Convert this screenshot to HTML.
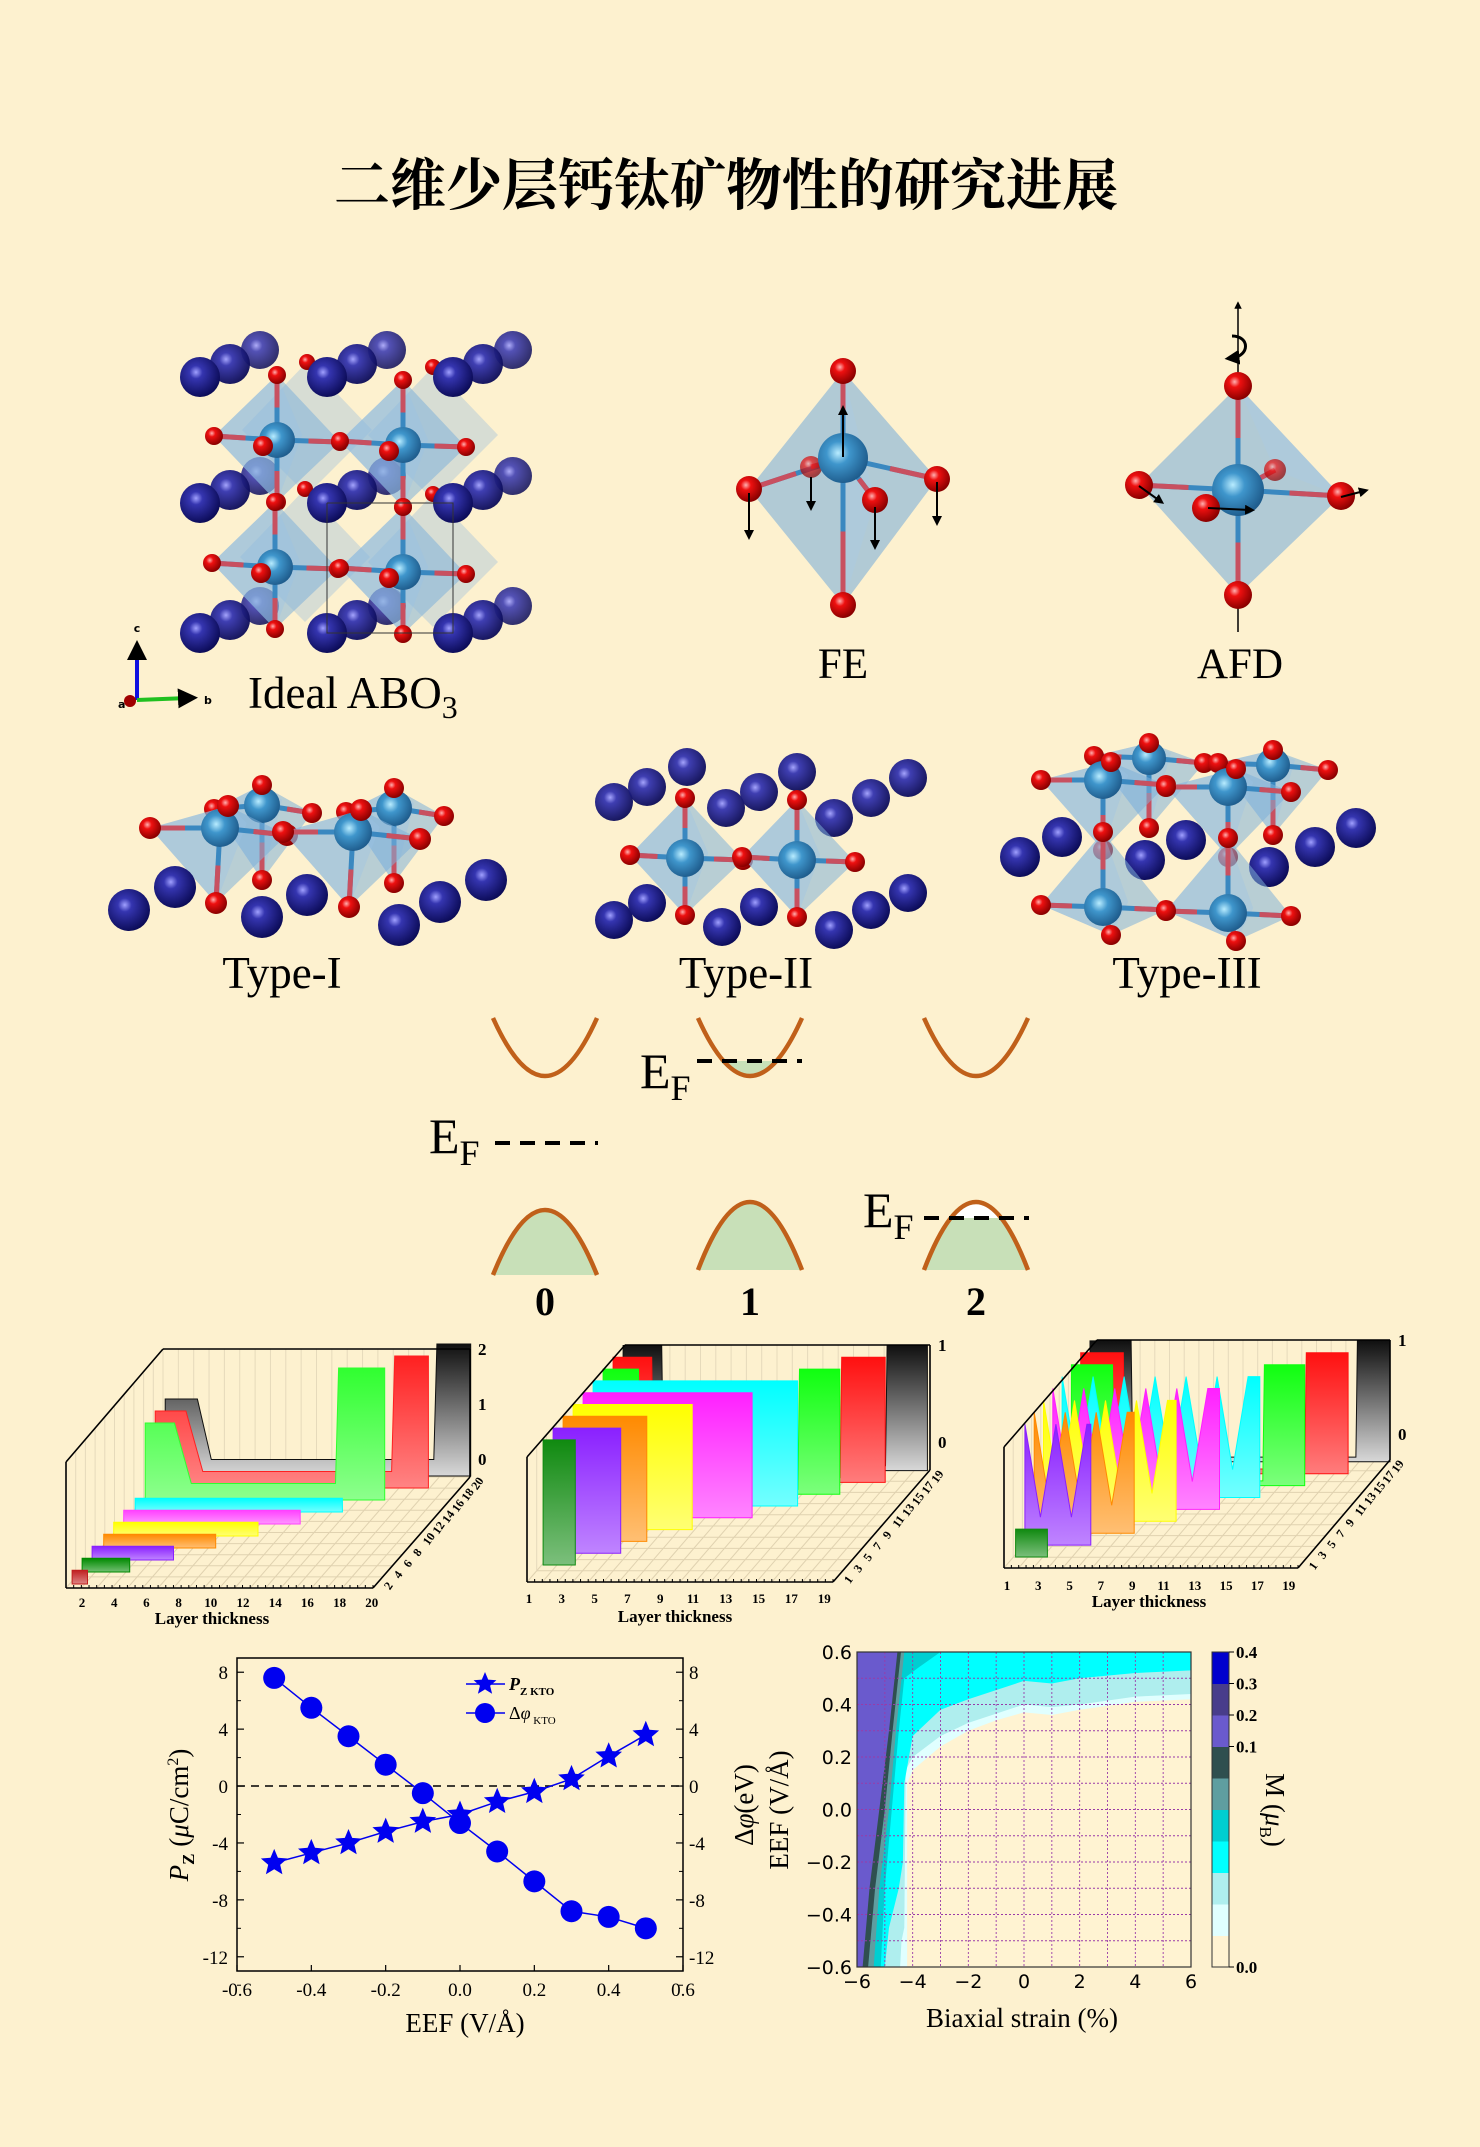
<!DOCTYPE html>
<html><head><meta charset="utf-8">
<style>
html,body{margin:0;padding:0;background:#fdf1cf;}
svg{display:block;}
text{font-family:"Liberation Serif","Noto Serif CJK SC",serif;}
.sans{font-family:"DejaVu Sans","Liberation Sans",sans-serif;}
</style></head>
<body>
<svg id="root" width="1480" height="2147" viewBox="0 0 1480 2147" xmlns="http://www.w3.org/2000/svg">
<defs>
<radialGradient id="gNavy" cx="40%" cy="38%" r="65%"><stop offset="0" stop-color="#a0a0ff"/><stop offset="0.25" stop-color="#3535b0"/><stop offset="1" stop-color="#0a0a55"/></radialGradient>
<radialGradient id="gRed" cx="38%" cy="35%" r="65%"><stop offset="0" stop-color="#ffb0b0"/><stop offset="0.3" stop-color="#ee1010"/><stop offset="1" stop-color="#8a0000"/></radialGradient>
<radialGradient id="gB" cx="40%" cy="40%" r="65%"><stop offset="0" stop-color="#b8ecff"/><stop offset="0.35" stop-color="#3f96cc"/><stop offset="1" stop-color="#1c5888"/></radialGradient>
<marker id="arr" viewBox="0 0 10 10" refX="5" refY="5" markerWidth="5" markerHeight="5" orient="auto"><path d="M0,0 L10,5 L0,10 z" fill="#000"/></marker>
<clipPath id="heatClip"><rect x="857" y="1652" width="334" height="315"/></clipPath>
</defs>

<text x="726" y="205" text-anchor="middle" font-size="56" font-weight="bold" style="font-family:'Noto Serif CJK SC','Noto Sans CJK SC',serif">二维少层钙钛矿物性的研究进展</text>

<g id="structs"></g>

<text x="248" y="708" font-size="45">Ideal ABO<tspan font-size="32" dy="10">3</tspan></text>
<text x="843" y="678" font-size="43" text-anchor="middle">FE</text>
<text x="1240" y="678" font-size="43" text-anchor="middle">AFD</text>
<text x="282" y="988" font-size="45" text-anchor="middle">Type-I</text>
<text x="746" y="988" font-size="45" text-anchor="middle">Type-II</text>
<text x="1187" y="988" font-size="45" text-anchor="middle">Type-III</text>

<g>
<line x1="137" y1="700" x2="137" y2="650" stroke="#1010e0" stroke-width="4" marker-end="url(#arr)"/>
<line x1="137" y1="700" x2="188" y2="698" stroke="#20c020" stroke-width="4" marker-end="url(#arr)"/>
<circle cx="130" cy="701" r="6" fill="#a00000"/>
<text x="137" y="632" font-size="11" font-weight="bold" text-anchor="middle" class="sans">c</text>
<text x="204" y="704" font-size="11" font-weight="bold" class="sans">b</text>
<text x="118" y="708" font-size="11" font-weight="bold" class="sans">a</text>
</g>

<g id="bands"></g>
<g id="panels"></g>
<g id="lchart"></g>
<g id="rchart"></g>
</svg>

<script>
const NS='http://www.w3.org/2000/svg';
function mk(tag,attrs,parent){const e=document.createElementNS(NS,tag);for(const k in attrs)e.setAttribute(k,attrs[k]);parent.appendChild(e);return e;}
const structs=document.getElementById('structs');

function sphere(cx,cy,r,kind,op){
  const g={navy:'url(#gNavy)',red:'url(#gRed)',b:'url(#gB)'}[kind];
  const c=mk('circle',{cx:cx,cy:cy,r:r,fill:g,opacity:op||1},structs);
  
  
  return c;
}
function bond(x1,y1,x2,y2){
  const l=mk('line',{x1:x1,y1:y1,x2:x2,y2:y2,stroke:'#3a88c0','stroke-width':5},structs);
  
  
  const mx=(x1+x2)/2,my=(y1+y2)/2;
  mk('line',{x1:mx,y1:my,x2:x2,y2:y2,stroke:'#c85060','stroke-width':5},structs);
}
function poly(pts,fill,op){
  const p=mk('polygon',{points:pts.map(q=>q.join(',')).join(' '),fill:fill,'fill-opacity':op},structs);
  
  
  return p;
}
function arrow(x1,y1,x2,y2){
  const l=mk('line',{x1:x1,y1:y1,x2:x2,y2:y2,stroke:'#000','stroke-width':2,'marker-end':'url(#arr)'},structs);
  
  
}
function octa(B,O,rB,rO){
  const [t,r,bt,l]=O;
  poly([t,r,bt,l],'#7fb0d8',0.55);
  poly([t,[B[0]+ (r[0]-B[0])*0.4,B[1]-5],bt,l],'#9cc4e4',0.35);
  O.forEach(o=>bond(B[0],B[1],o[0],o[1]));
  sphere(B[0],B[1],rB,'b');
  O.forEach(o=>sphere(o[0],o[1],rO,'red'));
}

const colsX=[200,327,453], rowsY=[377,503,633];
rowsY.forEach(y=>colsX.forEach(x=>{sphere(x+60,y-27,19,'navy',0.85);sphere(x+30,y-13,20,'navy',0.95);}));
[[277,440],[403,445],[275,567],[403,572]].forEach(([bx,by])=>{
  poly([[bx+30,by-78],[bx+95,by-10],[bx+30,by+55],[bx-35,by-10]],'#8fb8dc',0.35);
  octa([bx,by],[[bx,by-65],[bx+63,by+2],[bx,by+62],[bx-63,by-4]],18,9);
  sphere(bx+30,by-78,8,'red');sphere(bx-14,by+6,10,'red');
});
rowsY.forEach(y=>colsX.forEach(x=>sphere(x,y,20,'navy')));
mk('polyline',{points:'327,503 453,503 453,633 327,633 327,503',fill:'none',stroke:'#333','stroke-width':1},structs);

poly([[843,371],[937,479],[843,605],[749,489]],'#7fb0d8',0.6);
poly([[843,371],[875,500],[843,605]],'#a8cce8',0.35);
[[749,489],[937,479],[811,467],[875,500],[843,371],[843,605]].forEach(o=>bond(843,458,o[0],o[1]));
sphere(811,467,11,'red',0.7);
sphere(843,458,25,'b');
[[843,371],[843,605],[749,489],[937,479],[875,500]].forEach(o=>sphere(o[0],o[1],13,'red'));
arrow(843,457,843,410);arrow(749,493,749,535);arrow(811,477,811,506);arrow(875,507,875,545);arrow(937,482,937,521);

mk('line',{x1:1238,y1:386,x2:1238,y2:305,stroke:'#000','stroke-width':1.5,'marker-end':'url(#arr)'},structs);
mk('line',{x1:1238,y1:595,x2:1238,y2:632,stroke:'#000','stroke-width':1.5},structs);
mk('path',{d:'M1232,336 C1250,336 1250,356 1232,358',fill:'none',stroke:'#000','stroke-width':3,'marker-end':'url(#arr)'},structs);
poly([[1238,386],[1341,496],[1238,595],[1139,485]],'#7fb0d8',0.6);
poly([[1238,386],[1275,470],[1341,496]],'#a8cce8',0.35);
[[1139,485],[1341,496],[1275,470],[1206,508],[1238,386],[1238,595]].forEach(o=>bond(1238,490,o[0],o[1]));
sphere(1275,470,11,'red',0.7);
sphere(1238,490,26,'b');
[[1238,386],[1238,595],[1139,485],[1341,496],[1206,508]].forEach(o=>sphere(o[0],o[1],14,'red'));
arrow(1139,486,1160,501);arrow(1208,508,1250,510);arrow(1341,497,1364,491);

[[262,805],[394,808]].forEach(([x,y])=>octa([x,y],[[x,y-20],[x+50,y+8],[x,y+75],[x-48,y+4]],18,10));
[[220,828],[353,832]].forEach(([x,y])=>octa([x,y],[[x+8,y-22],[x+67,y+7],[x-4,y+75],[x-70,y]],19,11));
[[129,910],[175,887],[262,917],[307,895],[399,925],[440,902],[486,880]].forEach(p=>sphere(p[0],p[1],21,'navy'));

[[614,802],[647,787],[687,767],[726,808],[759,792],[797,772],[834,818],[871,798],[908,778]].forEach(p=>sphere(p[0],p[1],19,'navy',0.95));
[[685,858],[797,860]].forEach(([x,y])=>octa([x,y],[[x,y-60],[x+58,y+2],[x,y+57],[x-55,y-3]],19,10));
[[614,920],[647,903],[722,927],[759,907],[834,930],[871,910],[908,893]].forEach(p=>sphere(p[0],p[1],19,'navy'));

[[1149,758],[1273,765]].forEach(([x,y])=>octa([x,y],[[x,y-15],[x+55,y+5],[x,y+70],[x-55,y-2]],17,10));
[[1103,780],[1228,787]].forEach(([x,y])=>octa([x,y],[[x+8,y-18],[x+63,y+5],[x,y+70],[x-62,y]],19,10));
[[1020,857],[1062,837],[1145,860],[1186,840],[1269,867],[1315,847],[1356,828]].forEach(p=>sphere(p[0],p[1],20,'navy'));
[[1103,907],[1228,913]].forEach(([x,y])=>octa([x,y],[[x,y-75],[x+63,y+3],[x+8,y+28],[x-62,y-2]],19,10));

const bands=document.getElementById('bands');
const cbCenters=[545,750,976];
const vbTop=[1210,1202,1202], vbBot=[1275,1270,1270];
cbCenters.forEach((cx,i)=>{
  const hw=52;
  if(i===1){const f=mk('path',{d:`M${cx-30},1061 Q${cx},1092 ${cx+30},1061 Z`,fill:'#c8e0b8'},bands);}
  const cb=mk('path',{d:`M${cx-hw},1018 Q${cx},1134 ${cx+hw},1018`,fill:'none',stroke:'#c0601a','stroke-width':4.5},bands);
  
  
  const t=vbTop[i],b=vbBot[i];
  const vf=mk('path',{d:`M${cx-hw},${b} Q${cx},${2*t-b} ${cx+hw},${b} Z`,fill:'#c8e0b8'},bands);
  
  
  if(i===2){mk('path',{d:`M${cx-28},1218 Q${cx},1190 ${cx+28},1218 Z`,fill:'#ffffff'},bands);}
  const vb=mk('path',{d:`M${cx-hw},${b} Q${cx},${2*t-b} ${cx+hw},${b}`,fill:'none',stroke:'#c0601a','stroke-width':4.5},bands);
  
  
  const n=mk('text',{x:cx,y:1315,'font-size':40,'font-weight':'bold','text-anchor':'middle'},bands);
  n.textContent=String(i);
  
  
});
const efs=[[429,1153,495,598,1143],[640,1088,697,802,1061],[863,1227,924,1029,1218]];
efs.forEach((e,i)=>{
  const t=mk('text',{x:e[0],y:e[1],'font-size':50},bands);
  t.innerHTML='E<tspan font-size="36" dy="12">F</tspan>';
  
  
  const l=mk('line',{x1:e[2],y1:e[4],x2:e[3],y2:e[4],stroke:'#000','stroke-width':4,'stroke-dasharray':'15,10'},bands);
  
  
});

const panels=document.getElementById('panels');
const rowColors1=['#c02020','#008a00','#8a20ff','#ff8a00','#ffff00','#ff40ff','#00ffff','#30ff30','#ff2020','#101010'];
const p1rows=[
 [[0.4,0.25],[1.4,0.25]],
 [[0.4,0.25],[3.5,0.25]],
 [[0.4,0.25],[5.7,0.25]],
 [[0.5,0.25],[7.8,0.25]],
 [[0.5,0.25],[9.9,0.25]],
 [[0.5,0.25],[12.0,0.25]],
 [[0.6,0.25],[14.1,0.25]],
 [[0.6,1.4],[2.5,1.4],[3.6,0.3],[13.0,0.3],[13.2,2.4],[16.2,2.4]],
 [[0.6,1.4],[2.6,1.4],[3.7,0.3],[16.0,0.3],[16.2,2.4],[18.4,2.4]],
 [[0.6,1.4],[2.7,1.4],[3.6,0.3],[18.1,0.3],[18.3,2.4],[20.5,2.4]]
];
const rowColors2=['#108a10','#8a20ff','#ff8a00','#ffff00','#ff20ff','#00ffff','#10ff10','#ff1010','#101010'];
const p2rows=[
 [[1,1.29],[3.0,1.29]],
 [[1,1.29],[5.2,1.29]],
 [[1,1.29],[6.2,1.29]],
 [[1,1.29],[8.4,1.29]],
 [[1,1.29],[11.5,1.29]],
 [[1,1.29],[13.7,1.29]],
 [[1,1.29],[3.2,1.29],[3.3,0.05],[13.1,0.05],[13.2,1.29],[15.7,1.29]],
 [[1,1.29],[3.4,1.29],[3.5,0.05],[15.1,0.05],[15.2,1.29],[17.9,1.29]],
 [[1,1.29],[3.4,1.29],[3.5,0.05],[17.3,0.05],[17.4,1.29],[19.9,1.29]]
];
const rowColors3=['#108a10','#8a20ff','#ff8a00','#ffff00','#ff20ff','#00ffff','#10ff10','#ff1010','#101010'];
const p3rows=[
 [[0.75,0.3],[2.8,0.3]],
 [[0.75,1.3],[1.75,0.3],[2.75,1.3],[3.75,0.3],[4.75,1.3],[5.0,1.3]],
 [[0.75,1.3],[1.75,0.3],[2.75,1.3],[3.75,0.3],[4.75,1.3],[5.75,0.3],[6.75,1.3],[7.2,1.3]],
 [[0.75,1.3],[1.75,0.3],[2.75,1.3],[3.75,0.3],[4.75,1.3],[5.75,0.3],[6.75,1.3],[7.75,0.3],[8.75,1.3],[9.3,1.3]],
 [[0.75,1.3],[1.75,0.3],[2.75,1.3],[3.75,0.3],[4.75,1.3],[5.75,0.3],[6.75,1.3],[7.75,0.3],[8.75,1.3],[9.75,0.3],[10.75,1.3],[11.5,1.3]],
 [[0.75,1.3],[1.75,0.3],[2.75,1.3],[3.75,0.3],[4.75,1.3],[5.75,0.3],[6.75,1.3],[7.75,0.3],[8.75,1.3],[9.75,0.3],[10.75,1.3],[11.75,0.3],[12.75,1.3],[13.5,1.3]],
 [[0.75,1.3],[3.4,1.3],[3.5,0.05],[13.1,0.05],[13.2,1.3],[15.8,1.3]],
 [[0.75,1.3],[3.5,1.3],[3.6,0.05],[15.2,0.05],[15.3,1.3],[18.0,1.3]],
 [[0.75,1.3],[3.4,1.3],[3.5,0.05],[17.9,0.05],[18.0,1.3],[20.1,1.3]]
];
const p1xTicks=['2','4','6','8','10','12','14','16','18','20'];
const p2xTicks=['1','3','5','7','9','11','13','15','17','19'];
const p3xTicks=['1','3','5','7','9','11','13','15','17','19'];
const p1zTicks=['2','1','0'], p2zTicks=['1','0'], p3zTicks=['1','0'];

function lighten(hex,f){const n=parseInt(hex.slice(1),16);let r=n>>16,g=(n>>8)&255,b=n&255;r=Math.round(r+(255-r)*f);g=Math.round(g+(255-g)*f);b=Math.round(b+(255-b)*f);return `rgb(${r},${g},${b})`;}
let gid=0;
function drawPanel(cfg,rows,colors,xTicks,zTicks){
  const g=mk('g',{},panels);
  
  
  const defs=document.querySelector('defs');
  const {fl,ft,bt,bR,baseL,baseR,diagT}=cfg.frame;
  for(let i=0;i<=20;i++){const x=baseL[0]+(baseR[0]-baseL[0])*i/20;mk('line',{x1:x,y1:baseL[1],x2:x+(diagT[0]-baseR[0]),y2:diagT[1],stroke:'#e0d2b0','stroke-width':1},g);
    mk('line',{x1:x+(diagT[0]-baseR[0]),y1:diagT[1],x2:x+(diagT[0]-baseR[0]),y2:bt[1],stroke:'#e6dabb','stroke-width':1},g);}
  for(let i=0;i<=10;i++){const dx=(diagT[0]-baseR[0])*i/10,dy=(diagT[1]-baseR[1])*i/10;mk('line',{x1:baseL[0]+dx,y1:baseL[1]+dy,x2:baseR[0]+dx,y2:baseR[1]+dy,stroke:'#e0d2b0','stroke-width':1},g);
    mk('line',{x1:fl[0]+dx,y1:fl[1]+dy,x2:baseL[0]+dx,y2:baseL[1]+dy,stroke:'#e6dabb','stroke-width':1},g);}
  for(let r=rows.length-1;r>=0;r--){
    const x0=cfg.ox+r*cfg.dx, base=cfg.oy+r*cfg.dy;
    const id='rg'+(gid++);
    const lg=mk('linearGradient',{id:id,x1:0,y1:0,x2:0,y2:1},defs);
    const top=colors[r];
    const bot=colors[r]==='#101010'?'#d8d8d8':lighten(colors[r],0.45);
    mk('stop',{offset:0,'stop-color':top},lg);mk('stop',{offset:1,'stop-color':bot},lg);
    const pts=rows[r].map(([L,h])=>[x0+L*cfg.lw,base-h*cfg.zs]);
    const all=[[pts[0][0],base],...pts,[pts[pts.length-1][0],base]];
    const p=mk('polygon',{points:all.map(q=>q.map(v=>v.toFixed(1)).join(',')).join(' '),fill:`url(#${id})`,stroke:colors[r],'stroke-width':1},g);
    
    
  }
  const fr=[[fl,baseL],[fl,ft],[ft,bt],[bt,bR],[baseL,baseR],[baseR,diagT],[diagT,bR]];
  fr.forEach(([a,b])=>mk('line',{x1:a[0],y1:a[1],x2:b[0],y2:b[1],stroke:'#000','stroke-width':1.6},g));
  for(let i=0;i<=40;i++){const x=baseL[0]+(baseR[0]-baseL[0])*i/40;mk('line',{x1:x,y1:baseL[1],x2:x,y2:baseL[1]-3,stroke:'#000','stroke-width':1},g);}
  xTicks.forEach((t,i)=>{const x=cfg.xt0+i*cfg.xtStep;const e=mk('text',{x:x,y:cfg.xtY,'font-size':13,'font-weight':'bold','text-anchor':'middle'},g);e.textContent=t;});
  const lt=mk('text',{x:cfg.titleX,y:cfg.titleY,'font-size':17,'font-weight':'bold','text-anchor':'middle'},g);
  lt.textContent='Layer thickness';
  
  
  xTicks.forEach((t,i)=>{const f=(i+0.5)/xTicks.length;const x=baseR[0]+12+(diagT[0]-baseR[0])*f,y=baseR[1]+8+(diagT[1]-baseR[1])*f;
    const e=mk('text',{x:x,y:y,'font-size':12,'font-weight':'bold',transform:`rotate(-55 ${x} ${y})`},g);e.textContent=t;});
  zTicks.forEach((t,i)=>{const e=mk('text',{x:bR[0]+8,y:cfg.zY[i],'font-size':17,'font-weight':'bold'},g);e.textContent=t;});
}
drawPanel({name:'panel-type-i',ox:66,oy:1584,dx:10,dy:-12,lw:15.35,zs:55,
  frame:{fl:[66,1462],ft:[163,1349],bt:[470,1349],bR:[470,1477],baseL:[66,1588],baseR:[373,1588],diagT:[470,1477]},
  xt0:82,xtStep:32.2,xtY:1607,titleX:212,titleY:1624,zY:[1355,1410,1465]},p1rows,rowColors1,p1xTicks,p1zTicks);
drawPanel({name:'panel-type-ii',ox:527,oy:1565,dx:10,dy:-11.8,lw:16.1,zs:97,
  frame:{fl:[527,1457],ft:[625,1345],bt:[930,1345],bR:[930,1470],baseL:[527,1582],baseR:[833,1582],diagT:[930,1470]},
  xt0:529,xtStep:32.8,xtY:1603,titleX:675,titleY:1622,zY:[1351,1448]},p2rows,rowColors2,p2xTicks,p2zTicks);
drawPanel({name:'panel-type-iii',ox:1004,oy:1557,dx:9.3,dy:-11.9,lw:15.5,zs:93,
  frame:{fl:[1004,1447],ft:[1097,1340],bt:[1390,1340],bR:[1390,1460],baseL:[1004,1568],baseR:[1298,1568],diagT:[1390,1460]},
  xt0:1007,xtStep:31.3,xtY:1590,titleX:1149,titleY:1607,zY:[1346,1440]},p3rows,rowColors3,p3xTicks,p3zTicks);
</script>

<script>
// ---- Left chart: Pz and delta phi vs EEF ----
const eef=[-0.5,-0.4,-0.3,-0.2,-0.1,0.0,0.1,0.2,0.3,0.4,0.5];
const pzKTO=[-5.4,-4.7,-4.0,-3.2,-2.5,-2.0,-1.1,-0.4,0.5,2.1,3.6];
const dphiKTO=[7.6,5.5,3.5,1.5,-0.5,-2.6,-4.6,-6.7,-8.8,-9.2,-10.0];
const lxTicks=['-0.6','-0.4','-0.2','0.0','0.2','0.4','0.6'];
const lyTicks=['8','4','0','-4','-8','-12'];
(function(){
  const NS='http://www.w3.org/2000/svg';
  const G=document.getElementById('lchart');
  function mk(tag,a,p){const e=document.createElementNS(NS,tag);for(const k in a)e.setAttribute(k,a[k]);(p||G).appendChild(e);return e;}
  const L=237,R=683;
  const X=v=>L+(v+0.6)/1.2*(R-L), Y=v=>1658+(9-v)/22*313;
  const fr=mk('rect',{x:L,y:1658,width:R-L,height:313,fill:'none',stroke:'#000','stroke-width':1.5});
  
  
  lxTicks.forEach(t=>{const v=parseFloat(t),x=X(v);
    mk('line',{x1:x,y1:1971,x2:x,y2:1965,stroke:'#000','stroke-width':1.2});
    const e=mk('text',{x:x,y:1996,'font-size':19,'text-anchor':'middle'});e.textContent=t;
    
    });
  lyTicks.forEach(t=>{const v=parseFloat(t),y=Y(v);
    mk('line',{x1:L,y1:y,x2:L+7,y2:y,stroke:'#000','stroke-width':1.2});
    mk('line',{x1:R,y1:y,x2:R-7,y2:y,stroke:'#000','stroke-width':1.2});
    mk('line',{x1:L,y1:Y(v-2),x2:L+4,y2:Y(v-2),stroke:'#000','stroke-width':1});
    mk('line',{x1:R,y1:Y(v-2),x2:R-4,y2:Y(v-2),stroke:'#000','stroke-width':1});
    const e=mk('text',{x:228,y:y+7,'font-size':19,'text-anchor':'end'});e.textContent=t;
    
    
    const e2=mk('text',{x:689,y:y+7,'font-size':19});e2.textContent=t;
    
    });
  const zl=mk('line',{x1:L,y1:Y(0),x2:R,y2:Y(0),stroke:'#000','stroke-width':1.5,'stroke-dasharray':'8,6'});
  
  
  const xt=mk('text',{x:465,y:2032,'font-size':27,'text-anchor':'middle'});xt.textContent='EEF (V/Å)';
  
  
  const yt=mk('text',{x:0,y:0,'font-size':27,'text-anchor':'middle',transform:'translate(188,1815) rotate(-90)'});
  yt.innerHTML='<tspan font-style="italic">P</tspan><tspan font-size="17" dy="6" font-weight="bold">Z</tspan><tspan dy="-6"> (</tspan><tspan font-style="italic">μ</tspan>C/cm<tspan font-size="16" dy="-10">2</tspan><tspan dy="10">)</tspan>';
  
  
  const blue='#0000f0';
  function star(cx,cy,Rr){let d='';for(let i=0;i<10;i++){const r=i%2?Rr*0.45:Rr,a=-Math.PI/2+i*Math.PI/5;d+=(i?'L':'M')+(cx+r*Math.cos(a)).toFixed(1)+','+(cy+r*Math.sin(a)).toFixed(1);}return d+'Z';}
  const l1=mk('polyline',{points:eef.map((v,i)=>X(v)+','+Y(pzKTO[i])).join(' '),fill:'none',stroke:blue,'stroke-width':1.5});
  
  
  const l2=mk('polyline',{points:eef.map((v,i)=>X(v)+','+Y(dphiKTO[i])).join(' '),fill:'none',stroke:blue,'stroke-width':1.5});
  
  
  eef.forEach((v,i)=>{const s=mk('path',{d:star(X(v),Y(pzKTO[i]),14),fill:blue});
    
    });
  eef.forEach((v,i)=>{const c=mk('circle',{cx:X(v),cy:Y(dphiKTO[i]),r:11,fill:blue});
    
    });
  mk('line',{x1:466,y1:1684,x2:505,y2:1684,stroke:blue,'stroke-width':1.5});
  mk('path',{d:star(485,1684,12),fill:blue});
  const t1=mk('text',{x:509,y:1690,'font-size':18,'font-weight':'bold','font-style':'italic'});t1.innerHTML='P<tspan font-size="11" font-style="normal" dy="5">Z KTO</tspan>';
  
  
  mk('line',{x1:466,y1:1713,x2:505,y2:1713,stroke:blue,'stroke-width':1.5});
  mk('circle',{cx:485,cy:1713,r:10,fill:blue});
  const t2=mk('text',{x:509,y:1719,'font-size':18});t2.innerHTML='Δ<tspan font-style="italic">φ</tspan><tspan font-size="11" dy="5"> KTO</tspan>';
  
  
})();
</script>

<script>
// ---- Right chart: contour of M vs strain and EEF ----
const strainTicks=['−6','−4','−2','0','2','4','6'];
const strainVals=[-6,-4,-2,0,2,4,6];
const eefTicks=['0.6','0.4','0.2','0.0','−0.2','−0.4','−0.6'];
const eefVals=[0.6,0.4,0.2,0.0,-0.2,-0.4,-0.6];
const cbarLabels=['0.4','0.3','0.2','0.1','0.0'];
const cbarColors=['#fff3d2','#e0ffff','#afeeee','#00ffff','#00ced1','#5f9ea0','#2f4f4f','#6a5acd','#483d8b','#0000cd'];
const cLightcyan=[[-4.2,-0.6],[-4.2,0.1],[-4.0,0.15],[-3,0.24],[-2,0.3],[-1,0.34],[0,0.37],[1,0.36],[2,0.38],[4,0.41],[6,0.42]];
const cPale=[[-4.45,-0.6],[-4.4,-0.5],[-4.3,-0.45],[-4.25,0.15],[-4,0.2],[-3,0.28],[-2,0.33],[0,0.4],[1,0.39],[2,0.4],[4,0.43],[6,0.44]];
const cCyan=[[-5.0,-0.6],[-4.85,-0.45],[-4.5,-0.3],[-4.35,-0.2],[-4.3,0.1],[-4.0,0.28],[-3,0.38],[-2,0.42],[0,0.49],[1,0.48],[2,0.5],[4,0.52],[6,0.53]];
const cTurq=[[-5.15,-0.6],[-5.0,-0.3],[-4.75,0],[-4.5,0.3],[-4.3,0.5],[-3.8,0.54],[-3.0,0.6]];
const cCadet=[[-5.4,-0.6],[-5.2,-0.3],[-4.85,0],[-4.6,0.3],[-4.3,0.6]];
const cDark=[[-5.6,-0.6],[-5.35,-0.3],[-5.0,0],[-4.72,0.3],[-4.42,0.6]];
const cSlate=[[-5.8,-0.6],[-5.55,-0.3],[-5.2,0],[-4.85,0.3],[-4.55,0.6]];
(function(){
  const NS='http://www.w3.org/2000/svg';
  const G=document.getElementById('rchart');
  function mk(tag,a,p){const e=document.createElementNS(NS,tag);for(const k in a)e.setAttribute(k,a[k]);(p||G).appendChild(e);return e;}
  const L=857,R=1191;
  const X=v=>L+(v+6)/12*(R-L), Y=v=>1652+(0.6-v)/1.2*315;
  const clip=mk('g',{'clip-path':'url(#heatClip)'});
  
  
  mk('rect',{x:L,y:1652,width:R-L,height:315,fill:cbarColors[0]},clip);
  const layers=[[cLightcyan,1],[cPale,2],[cCyan,3],[cTurq,4],[cCadet,5],[cDark,6],[cSlate,7]];
  layers.forEach(([c,ci])=>{
    const pts=c.map(([s,e])=>[X(s),Y(e)]);
    const last=c[c.length-1];
    if(last[0]>=6){pts.push([X(6),Y(0.6)]);}
    pts.push([X(-6),Y(0.6)],[X(-6),Y(-0.6)]);
    const p=mk('polygon',{points:pts.map(q=>q.map(v=>v.toFixed(1)).join(',')).join(' '),fill:cbarColors[ci]},clip);
    
    
  });
  for(let s=-5;s<=5;s++)mk('line',{x1:X(s),y1:1652,x2:X(s),y2:1967,stroke:'#9a3aa8','stroke-width':0.9,'stroke-dasharray':'2,2'},clip);
  for(let k=-5;k<=5;k++){const e=k/10;mk('line',{x1:L,y1:Y(e),x2:R,y2:Y(e),stroke:'#9a3aa8','stroke-width':0.9,'stroke-dasharray':'2,2'},clip);}
  const fr=mk('rect',{x:L,y:1652,width:R-L,height:315,fill:'none',stroke:'#333','stroke-width':1.2});
  
  
  strainVals.forEach((v,i)=>{const e=mk('text',{x:X(v),y:1988,'font-size':19,'text-anchor':'middle',class:'sans'});e.textContent=strainTicks[i];
    
    });
  eefVals.forEach((v,i)=>{const e=mk('text',{x:852,y:Y(v)+7,'font-size':19,'text-anchor':'end',class:'sans'});e.textContent=eefTicks[i];
    
    });
  const xt=mk('text',{x:1022,y:2027,'font-size':27,'text-anchor':'middle'});xt.textContent='Biaxial strain (%)';
  
  
  const yt=mk('text',{x:0,y:0,'font-size':27,'text-anchor':'middle',transform:'translate(788,1810) rotate(-90)'});yt.textContent='EEF (V/Å)';
  
  
  const yt2=mk('text',{x:0,y:0,'font-size':27,'text-anchor':'middle',transform:'translate(753,1805) rotate(-90)'});yt2.innerHTML='Δ<tspan font-style="italic">φ</tspan>(eV)';
  
  
  const segH=315/cbarColors.length;
  cbarColors.forEach((c,i)=>{const r=mk('rect',{x:1212,y:1967-(i+1)*segH,width:17,height:segH+0.5,fill:c});
    
    });
  mk('rect',{x:1212,y:1652,width:17,height:315,fill:'none',stroke:'#333','stroke-width':1});
  const cbY=[1652,1683.5,1715,1746.5,1967];
  cbarLabels.forEach((t,i)=>{mk('line',{x1:1229,y1:cbY[i],x2:1234,y2:cbY[i],stroke:'#000'});
    const e=mk('text',{x:1236,y:cbY[i]+6,'font-size':17,'font-weight':'bold'});e.textContent=t;
    
    });
  const ct=mk('text',{x:0,y:0,'font-size':27,'text-anchor':'middle',transform:'translate(1266,1810) rotate(90)'});
  ct.innerHTML='M (<tspan font-style="italic">μ</tspan><tspan font-size="17" dy="6">B</tspan><tspan dy="-6">)</tspan>';
  
  
})();
</script>
</body></html>
